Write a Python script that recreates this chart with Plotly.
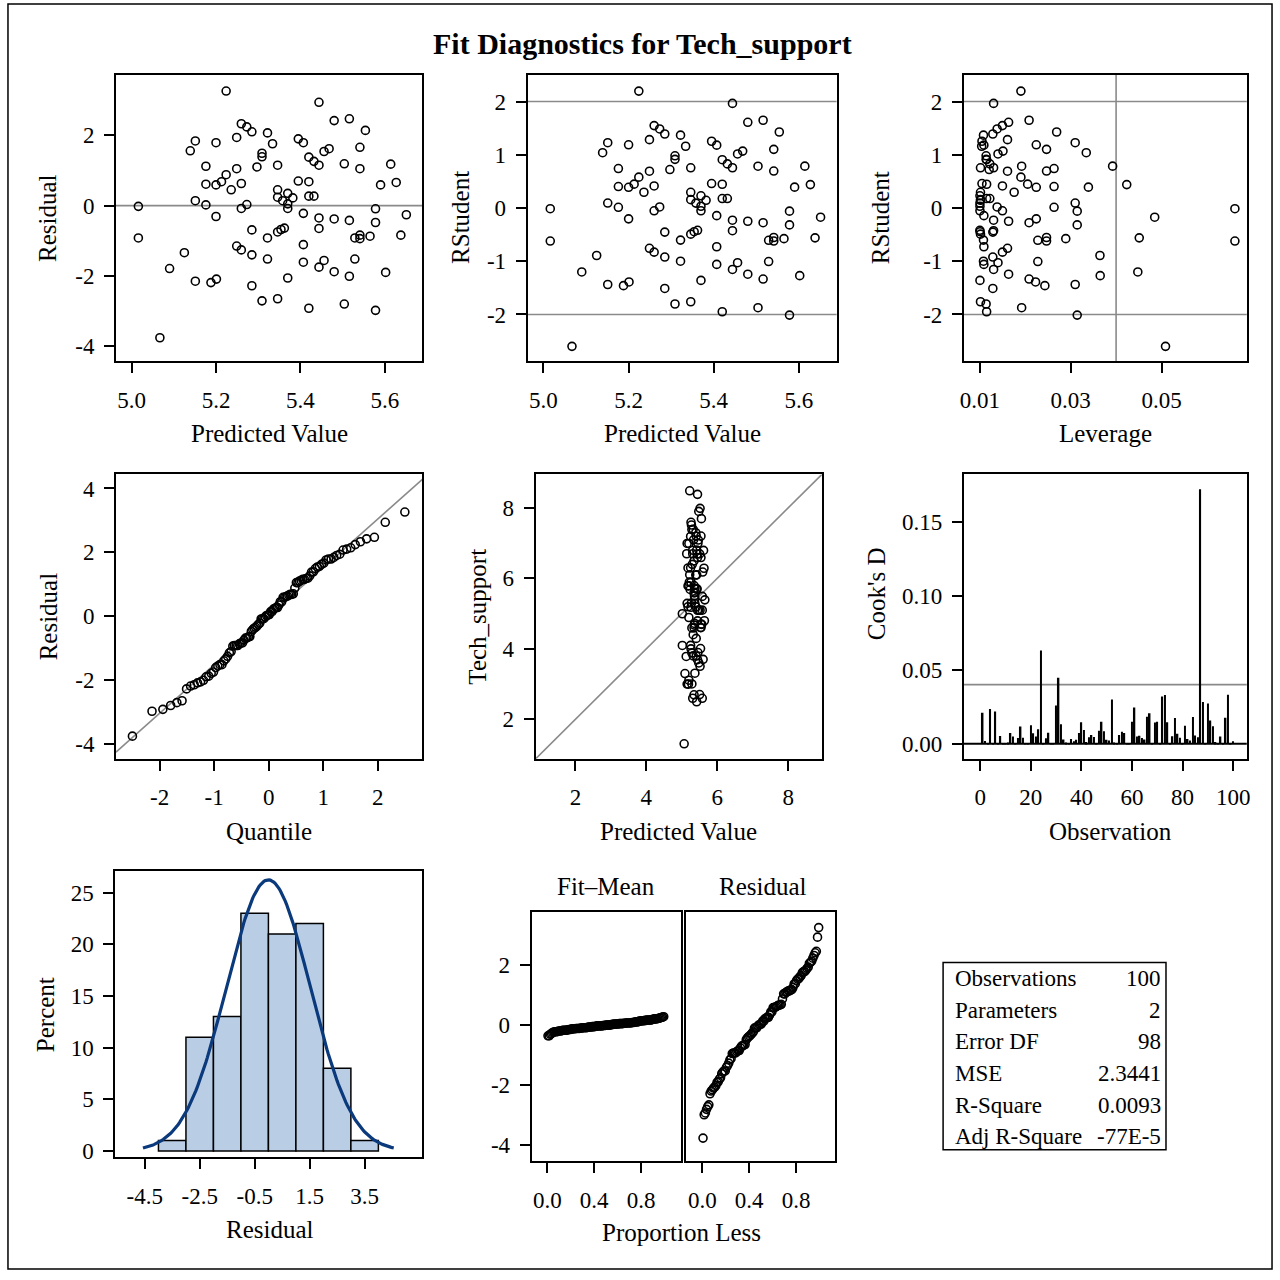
import numpy as np
import plotly.graph_objects as go
from statistics import NormalDist

# ---------------- data ----------------
predicted = [5.016, 5.016, 5.067, 5.090, 5.125, 5.139, 5.151, 5.151, 5.151, 5.176,
             5.176, 5.176, 5.188, 5.200, 5.200, 5.200, 5.201, 5.213, 5.224, 5.224,
             5.236, 5.249, 5.249, 5.249, 5.260, 5.260, 5.260, 5.260, 5.273, 5.273,
             5.285, 5.285, 5.285, 5.285, 5.297, 5.309, 5.309, 5.309, 5.322, 5.322,
             5.322, 5.334, 5.346, 5.346, 5.346, 5.346, 5.346, 5.358, 5.354, 5.362,
             5.370, 5.370, 5.370, 5.370, 5.382, 5.395, 5.395, 5.407, 5.407, 5.407,
             5.407, 5.420, 5.420, 5.420, 5.420, 5.432, 5.432, 5.444, 5.444, 5.444,
             5.444, 5.444, 5.456, 5.456, 5.468, 5.480, 5.480, 5.480, 5.504, 5.504,
             5.516, 5.516, 5.516, 5.529, 5.529, 5.541, 5.541, 5.541, 5.541, 5.554,
             5.565, 5.578, 5.578, 5.578, 5.590, 5.602, 5.614, 5.627, 5.638, 5.651]

residual = [-0.02, -0.92, -3.76, -1.79, -1.34, 1.56, 1.84, 0.14, -2.15, 1.12,
            0.61, 0.02, -2.19, 1.79, 0.59, -0.31, -2.09, 0.68, 3.26, 0.88,
            0.45, 1.94, 1.05, -1.15, 2.33, 0.63, -0.08, -1.26, 2.24, 0.03,
            2.10, -0.69, -1.40, -2.28, 1.10, 1.49, 1.39, -2.71, 2.07, -0.92,
            -1.52, 1.76, 1.15, 0.45, 0.24, -0.75, -2.65, 0.14, -0.68, -0.64,
            0.35, 0.05, -0.08, -2.06, 0.22, 1.90, 0.70, 1.79, -0.22, -1.11,
            -1.61, 1.38, 0.68, 0.27, -2.92, 1.26, 0.27, 2.94, 1.15, -0.35,
            -0.65, -1.75, 1.54, -1.56, 1.62, 2.42, -0.38, -1.88, 1.19, -2.80,
            2.47, -0.42, -2.01, -0.92, -1.52, 1.66, 1.05, -0.84, -0.94, 2.14,
            -0.87, -0.09, -0.48, -2.98, 0.59, -1.90, 1.18, 0.66, -0.84, -0.26]

observation = list(range(1, 101))
cooks_d = [0.0210, 0.0020, 0.0003, 0.0236, 0.0003, 0.0219, 0.0002, 0.0053, 0.0002, 0.0003,
           0.0004, 0.0073, 0.0049, 0.0002, 0.0040, 0.0117, 0.0042, 0.0002, 0.0003, 0.0126,
           0.0071, 0.0049, 0.0099, 0.0630, 0.0002, 0.0038, 0.0075, 0.0003, 0.0002, 0.0259,
           0.0446, 0.0133, 0.0029, 0.0009, 0.0002, 0.0033, 0.0018, 0.0027, 0.0073, 0.0146,
           0.0093, 0.0013, 0.0044, 0.0060, 0.0046, 0.0003, 0.0088, 0.0150, 0.0086, 0.0027,
           0.0022, 0.0300, 0.0009, 0.0002, 0.0060, 0.0082, 0.0073, 0.0002, 0.0003, 0.0150,
           0.0245, 0.0049, 0.0055, 0.0040, 0.0029, 0.0183, 0.0206, 0.0003, 0.0144, 0.0150,
           0.0003, 0.0320, 0.0330, 0.0146, 0.0002, 0.0051, 0.0175, 0.0069, 0.0042, 0.0003,
           0.0122, 0.0033, 0.0022, 0.0181, 0.0057, 0.0044, 0.1720, 0.0283, 0.0002, 0.0272,
           0.0157, 0.0119, 0.0013, 0.0002, 0.0049, 0.0003, 0.0177, 0.0332, 0.0002, 0.0018]

stat_labels = ["Observations", "Parameters", "Error DF", "MSE", "R-Square", "Adj R-Square"]
stat_values = ["100", "2", "98", "2.3441", "0.0093", "-77E-5"]

title_text = "Fit Diagnostics for Tech_support"

# tick labels
pred_ticks = [5.0, 5.2, 5.4, 5.6]
resid_ticks = [-4, -2, 0, 2]
rstud_ticks = [-2, -1, 0, 1, 2]
lev_ticks = [0.01, 0.03, 0.05]
quant_ticks = [-2, -1, 0, 1, 2]
qq_y_ticks = [-4, -2, 0, 2, 4]
obs_ticks = [2, 4, 6, 8]
cook_x_ticks = [0, 20, 40, 60, 80, 100]
cook_y_ticks = [0.0, 0.05, 0.10, 0.15]
hist_x_ticks = [-4.5, -2.5, -0.5, 1.5, 3.5]
hist_y_ticks = [0, 5, 10, 15, 20, 25]
prop_ticks = [0.0, 0.4, 0.8]
spread_y_ticks = [-4, -2, 0, 2]

# ---------------- derived regression diagnostics ----------------
pred = np.array(predicted)
res = np.array(residual)
n = len(res)
p = 2
sse = float((res ** 2).sum())
pc = pred - pred.mean()
lev = 1.0 / n + pc ** 2 / (pc ** 2).sum()
s_del = np.sqrt((sse - res ** 2 / (1 - lev)) / (n - p - 1))
rstud = res / (s_del * np.sqrt(1 - lev))
observed = pred + res

nd = NormalDist()
res_sorted = np.sort(res)
quantiles = np.array([nd.inv_cdf((i - 0.375) / (n + 0.25)) for i in range(1, n + 1)])
prop_less = np.array([(i - 0.375) / (n + 0.25) for i in range(1, n + 1)])
fit_mean_sorted = np.sort(pc)
r_mean = res.mean()
r_sd = res.std(ddof=1)

edges = np.arange(-4, 5, 1.0)
counts, _ = np.histogram(res, bins=edges)
pct = counts / n * 100
centers = (edges[:-1] + edges[1:]) / 2
curve_x = np.linspace(r_mean - 3 * r_sd, r_mean + 3 * r_sd, 200)
curve_y = np.array([NormalDist(r_mean, r_sd).pdf(v) for v in curve_x]) * 100 * 1.0

# ---------------- layout helpers ----------------
W = H = 1280
FONT = "Liberation Serif"
GRAY = "#8a8a8a"


def px(x):
    return x / W


def py(y):
    return 1 - y / H


def fmt(vals, f):
    return [f.format(v) for v in vals]


def axis(k, dom, rng, tv, tt, is_x=True, show=True):
    sfx = "" if k == 1 else str(k)
    d = dict(domain=dom, range=rng, showline=True, linecolor="black", linewidth=2,
             mirror=True, showgrid=False, zeroline=False, fixedrange=True,
             anchor=("y" if is_x else "x") + sfx,
             tickfont=dict(family=FONT, size=23, color="black"))
    if show:
        d.update(ticks="outside", ticklen=10, tickwidth=1.6, tickcolor="black",
                 tickvals=tv, ticktext=tt, ticklabelstandoff=(7 if is_x else 5))
    else:
        d.update(ticks="", showticklabels=False)
    return d


def xd(a, b):
    return [px(a), px(b)]


def yd(top, bot):
    return [py(bot), py(top)]


fig = go.Figure()
mk = dict(symbol="circle-open", size=8, color="black", line=dict(width=1.6, color="black"))

# P1 residual vs predicted
fig.add_trace(go.Scatter(x=pred, y=res, mode="markers", marker=mk, xaxis="x", yaxis="y"))
# P2 rstudent vs predicted
fig.add_trace(go.Scatter(x=pred, y=rstud, mode="markers", marker=mk, xaxis="x2", yaxis="y2"))
# P3 rstudent vs leverage
fig.add_trace(go.Scatter(x=lev, y=rstud, mode="markers", marker=mk, xaxis="x3", yaxis="y3"))
# P4 QQ
qx = [-2.80, 2.82]
fig.add_trace(go.Scatter(x=qx, y=[r_mean + r_sd * v for v in qx], mode="lines",
                         line=dict(color=GRAY, width=1.6), xaxis="x4", yaxis="y4"))
fig.add_trace(go.Scatter(x=quantiles, y=res_sorted, mode="markers", marker=mk, xaxis="x4", yaxis="y4"))
# P5 observed vs predicted
fig.add_trace(go.Scatter(x=[0.88, 8.95], y=[0.88, 8.95], mode="lines",
                         line=dict(color=GRAY, width=1.6), xaxis="x5", yaxis="y5"))
fig.add_trace(go.Scatter(x=pred, y=observed, mode="markers", marker=mk, xaxis="x5", yaxis="y5"))
# P6 Cook's D
fig.add_trace(go.Bar(x=observation, y=cooks_d, width=0.6, marker=dict(color="black", line=dict(width=0)),
                     xaxis="x6", yaxis="y6"))
# P7 histogram
fig.add_trace(go.Bar(x=centers, y=pct, width=1.0,
                     marker=dict(color="#B9CDE5", line=dict(color="black", width=1.5)),
                     xaxis="x7", yaxis="y7"))
fig.add_trace(go.Scatter(x=curve_x, y=curve_y, mode="lines", line=dict(color="#0B3A7C", width=3.2),
                         xaxis="x7", yaxis="y7"))
# P8 spread
fig.add_trace(go.Scatter(x=prop_less, y=fit_mean_sorted, mode="markers", marker=mk, xaxis="x8", yaxis="y8"))
fig.add_trace(go.Scatter(x=prop_less, y=res_sorted, mode="markers", marker=mk, xaxis="x9", yaxis="y9"))

lay = dict(width=W, height=H, margin=dict(l=0, r=0, t=0, b=0), showlegend=False,
           paper_bgcolor="white", plot_bgcolor="white", barmode="overlay",
           font=dict(family=FONT, color="black"))

pt = lambda v: fmt(v, "{:.1f}")
lay["xaxis"] = axis(1, xd(112.7, 421), [4.963, 5.689], pred_ticks, pt(pred_ticks))
lay["yaxis"] = axis(1, yd(75.3, 363.3), [-4.43, 3.72], resid_ticks, fmt(resid_ticks, "{:d}"), False)
lay["xaxis2"] = axis(2, xd(527, 838), [4.963, 5.689], pred_ticks, pt(pred_ticks))
lay["yaxis2"] = axis(2, yd(75.3, 363.3), [-2.88, 2.50], rstud_ticks, fmt(rstud_ticks, "{:d}"), False)
lay["xaxis3"] = axis(3, xd(966, 1250.7), [0.0065, 0.0688], lev_ticks, fmt(lev_ticks, "{:.2f}"))
lay["yaxis3"] = axis(3, yd(75.3, 363.3), [-2.88, 2.50], rstud_ticks, fmt(rstud_ticks, "{:d}"), False)
lay["xaxis4"] = axis(4, xd(112.7, 421), [-2.80, 2.82], quant_ticks, fmt(quant_ticks, "{:d}"))
lay["yaxis4"] = axis(4, yd(477, 763), [-4.47, 4.44], qq_y_ticks, fmt(qq_y_ticks, "{:d}"), False)
lay["xaxis5"] = axis(5, xd(535, 823), [0.88, 8.95], obs_ticks, fmt(obs_ticks, "{:d}"))
lay["yaxis5"] = axis(5, yd(477, 763), [0.88, 8.95], obs_ticks, fmt(obs_ticks, "{:d}"), False)
lay["xaxis6"] = axis(6, xd(966, 1250.7), [-6.4, 105.4], cook_x_ticks, fmt(cook_x_ticks, "{:d}"))
lay["yaxis6"] = axis(6, yd(477, 763), [-0.0101, 0.182], cook_y_ticks, fmt(cook_y_ticks, "{:.2f}"), False)
lay["xaxis7"] = axis(7, xd(112, 421), [-5.57, 5.6], hist_x_ticks, fmt(hist_x_ticks, "{:.1f}"))
lay["yaxis7"] = axis(7, yd(875.7, 1163.3), [-0.58, 27.1], hist_y_ticks, fmt(hist_y_ticks, "{:d}"), False)
lay["xaxis8"] = axis(8, xd(531, 681), [-0.133, 1.139], prop_ticks, pt(prop_ticks))
lay["yaxis8"] = axis(8, yd(917.3, 1167.3), [-4.52, 3.77], spread_y_ticks, fmt(spread_y_ticks, "{:d}"), False)
lay["xaxis9"] = axis(9, xd(686.3, 836.7), [-0.139, 1.137], prop_ticks, pt(prop_ticks))
lay["yaxis9"] = axis(9, yd(917.3, 1167.3), [-4.52, 3.77], None, None, False, show=False)
fig.update_layout(**lay)

# reference lines
shapes = []


def hline(xa, ya, y, x0, x1, color=GRAY, w=1.6):
    shapes.append(dict(type="line", xref=xa, yref=ya, x0=x0, x1=x1, y0=y, y1=y,
                       line=dict(color=color, width=w), layer="below"))


def vline(xa, ya, x, y0, y1, color=GRAY, w=1.6):
    shapes.append(dict(type="line", xref=xa, yref=ya, x0=x, x1=x, y0=y0, y1=y1,
                       line=dict(color=color, width=w), layer="below"))


hline("x", "y", 0, 4.963, 5.689)
for v in (-2, 2):
    hline("x2", "y2", v, 4.963, 5.689)
    hline("x3", "y3", v, 0.0065, 0.0688)
vline("x3", "y3", 2 * p / n, -2.88, 2.50)
hline("x6", "y6", 4 / n, -6.4, 105.4)
hline("x6", "y6", 0, -6.4, 105.4, color="black", w=2)

# outer border and stats table box
shapes.append(dict(type="rect", xref="paper", yref="paper", x0=px(4), x1=px(1276), y0=py(1276), y1=py(4),
                   line=dict(color="black", width=1.5)))
shapes.append(dict(type="rect", xref="paper", yref="paper", x0=px(945), x1=px(1169.3), y0=py(1156), y1=py(967.7),
                   line=dict(color="black", width=1.5)))
fig.update_layout(shapes=shapes)

ann = []


def text(x, y, s, size=25, angle=0, xanchor="center", bold=False):
    ann.append(dict(x=px(x), y=py(y), xref="paper", yref="paper", text=(f"<b>{s}</b>" if bold else s),
                    showarrow=False, textangle=angle, xanchor=xanchor, yanchor="middle",
                    font=dict(family=FONT, size=size, color="black")))


text(643, 44, title_text, size=30, bold=True)
text(44.5, 219, "Residual", angle=-90)
text(267, 436, "Predicted Value")
text(460, 219, "RStudent", angle=-90)
text(683, 436, "Predicted Value")
text(882, 219, "RStudent", angle=-90)
text(1108, 436, "Leverage")
text(45, 620, "Residual", angle=-90)
text(267, 836, "Quantile")
text(477, 620, "Tech_support", angle=-90)
text(679, 836, "Predicted Value")
text(878, 597, "Cook's D", angle=-90)
text(1113, 836, "Observation")
text(42, 1020, "Percent", angle=-90)
text(268, 1236, "Residual")
text(606, 891, "Fit–Mean")
text(764, 891, "Residual")
text(682, 1239, "Proportion Less")
for i, (lab, val) in enumerate(zip(stat_labels, stat_values)):
    yy = 984 + i * 31.8
    text(955, yy, lab, size=23, xanchor="left")
    text(1166, yy, val, size=23, xanchor="right")
fig.update_layout(annotations=ann)

fig.write_html("out.html",
               post_script="document.body.style.margin='0px';document.body.style.overflow='hidden';")
